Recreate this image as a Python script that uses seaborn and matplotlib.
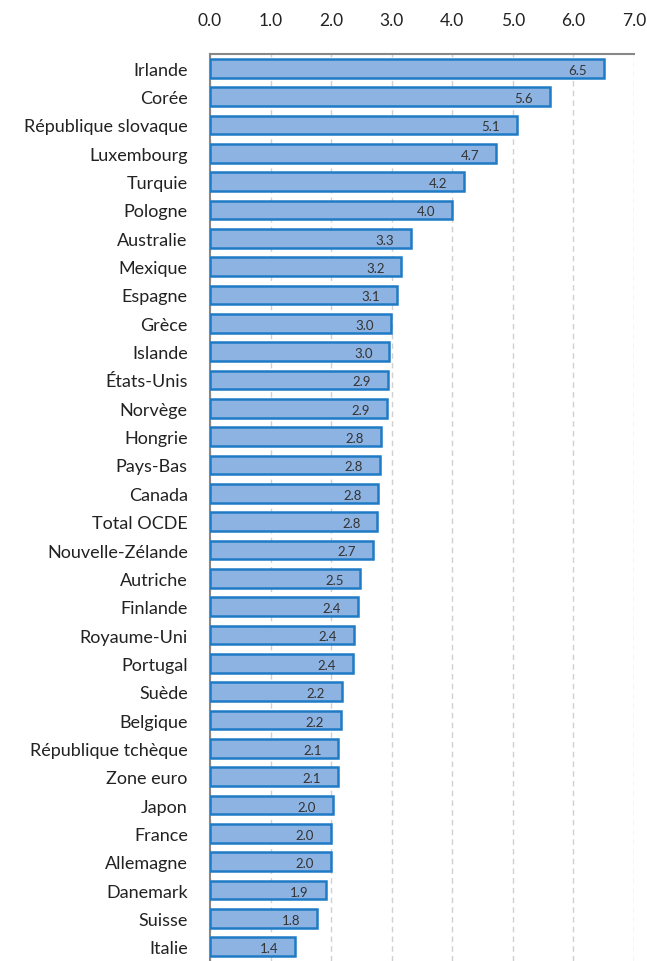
import seaborn as sns
import matplotlib.pyplot as plt
import pandas as pd

countries = ["Irlande", "Corée", "République slovaque", "Luxembourg", "Turquie", "Pologne",
             "Australie", "Mexique", "Espagne", "Grèce", "Islande", "États-Unis", "Norvège",
             "Hongrie", "Pays-Bas", "Canada", "Total OCDE", "Nouvelle-Zélande", "Autriche",
             "Finlande", "Royaume-Uni", "Portugal", "Suède", "Belgique", "République tchèque",
             "Zone euro", "Japon", "France", "Allemagne", "Danemark", "Suisse", "Italie"]
values = [6.50, 5.61, 5.06, 4.72, 4.19, 3.99, 3.32, 3.16, 3.09, 2.99, 2.96, 2.94, 2.92,
          2.82, 2.80, 2.78, 2.76, 2.69, 2.48, 2.44, 2.37, 2.36, 2.18, 2.16, 2.12,
          2.11, 2.03, 2.00, 2.00, 1.91, 1.77, 1.40]

df = pd.DataFrame({"pays": countries, "val": values})

sns.set_style("white")
plt.rcParams['font.family'] = ['Lato', 'DejaVu Sans']

fig = plt.figure(figsize=(6.47, 9.62), dpi=100)
ax = fig.add_axes([0.3246, 0.0, 0.6554, 0.9428])

sns.barplot(data=df, x="val", y="pays", color="#8db3e2", edgecolor="#1f7bc6",
            linewidth=1.8, width=0.66, saturation=1, ax=ax, zorder=3)

ax.set_xlim(0, 7)
ax.set_xticks(range(0, 8))
ax.set_xticklabels([f"{t:.1f}" for t in range(0, 8)])
ax.xaxis.tick_top()
ax.tick_params(axis='x', length=0, pad=19, labelsize=12.5, colors="#222222")
ax.tick_params(axis='y', length=0, pad=16, labelsize=13, colors="#222222")
ax.set_xlabel("")
ax.set_ylabel("")

ax.grid(axis='x', linestyle=(0, (4, 3)), color="#d0d0d0", linewidth=1, zorder=0)
ax.grid(axis='y', visible=False)

for s in ["right", "bottom"]:
    ax.spines[s].set_visible(False)
for s in ["left", "top"]:
    ax.spines[s].set_color("#888888")
    ax.spines[s].set_linewidth(1.5)

for i, v in enumerate(values):
    ax.text(v - 0.43, i + 0.05, f"{v:.1f}", ha='center', va='center', fontsize=9.5,
            color="#333333", zorder=4)

fig.savefig("out.png", dpi=100)
